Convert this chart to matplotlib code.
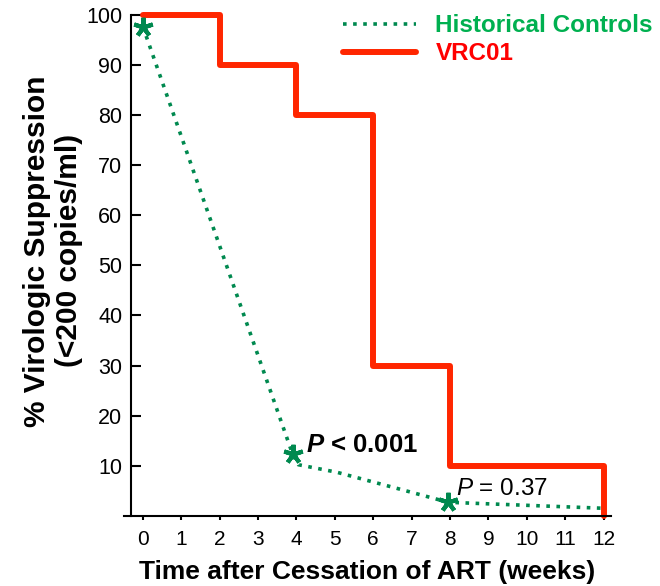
import matplotlib
matplotlib.use("Agg")
import matplotlib.pyplot as plt

plt.rcParams['font.family'] = ['Liberation Sans', 'DejaVu Sans']
plt.rcParams['mathtext.fontset'] = 'custom'
plt.rcParams['mathtext.it'] = 'Liberation Sans:italic'
plt.rcParams['mathtext.bf'] = 'Liberation Sans:bold'
plt.rcParams['mathtext.bfit'] = 'Liberation Sans:italic:bold'

# VRC01 arm (step curve, % suppressed)
vrc_weeks = [0, 2, 4, 6, 8, 12, 12]
vrc_pct = [100, 90, 80, 30, 10, 10, 0]

# historical controls (dotted curve + star markers)
hist_weeks = [0, 3.9, 4.05, 5.05, 6.8, 7.95, 12]
hist_pct = [97.7, 12.3, 10.2, 8.7, 5.1, 2.7, 1.5]
star_weeks = [0, 3.9, 7.95]
star_pct = [97.7, 12.3, 2.7]

x_ticks = list(range(0, 13))
y_ticks = list(range(10, 101, 10))

red = '#ff2600'
green = '#00894f'

fig = plt.figure(figsize=(6.6, 5.86), dpi=100)
ax = fig.add_axes([0.1873, 0.1198, 0.739, 0.8546])

hist_line, = ax.plot(hist_weeks, hist_pct, color=green, lw=2.6,
                     linestyle=(0, (1, 1.8)), clip_on=False, zorder=3)
ax.plot(star_weeks, star_pct, linestyle='none', marker=(5, 2, 0), ms=14,
        mew=3, color=green, mec=green, clip_on=False, zorder=4)
vrc_line, = ax.step(vrc_weeks, vrc_pct, where='post', color=red, lw=4.3,
                    clip_on=False, zorder=2, solid_capstyle='round')

ax.set_xlim(-0.5, 12.2)
ax.set_ylim(0, 100)
ax.set_xticks(x_ticks)
ax.set_yticks(y_ticks)

for side in ['top', 'right']:
    ax.spines[side].set_visible(False)
ax.spines['left'].set_position(('data', -0.315))
ax.spines['left'].set_linewidth(1.5)
ax.spines['bottom'].set_linewidth(1.5)
ax.tick_params(axis='x', direction='out', length=3, width=1.5,
               labelsize=15, pad=7)
ax.tick_params(axis='y', direction='in', length=7, width=1.5,
               labelsize=15.5, pad=6)

ax.set_xlabel('Time after Cessation of ART (weeks)', fontsize=19,
              fontweight='bold', labelpad=8)
ax.set_ylabel('% Virologic Suppression\n(<200 copies/ml)', fontsize=21.5,
              fontweight='bold', labelpad=2, linespacing=1.22, y=0.529)

ax.text(4.25, 14.2, r'$\mathbfit{P}$ < 0.001', fontsize=18.5,
        fontweight='bold', va='center', ha='left')
ax.text(8.15, 5.4, r'$\mathit{P}$ = 0.37', fontsize=17.5, va='center',
        ha='left')

leg = ax.legend([hist_line, vrc_line], ['Historical Controls', 'VRC01'],
                loc='upper right', bbox_to_anchor=(1.13, 1.045), frameon=False,
                handlelength=3.0, handletextpad=0.8, labelspacing=0.2,
                prop={'size': 17.5, 'weight': 'bold'})
for txt, col in zip(leg.get_texts(), ['#00b050', '#ff0000']):
    txt.set_color(col)

fig.savefig('out.png', dpi=100)
